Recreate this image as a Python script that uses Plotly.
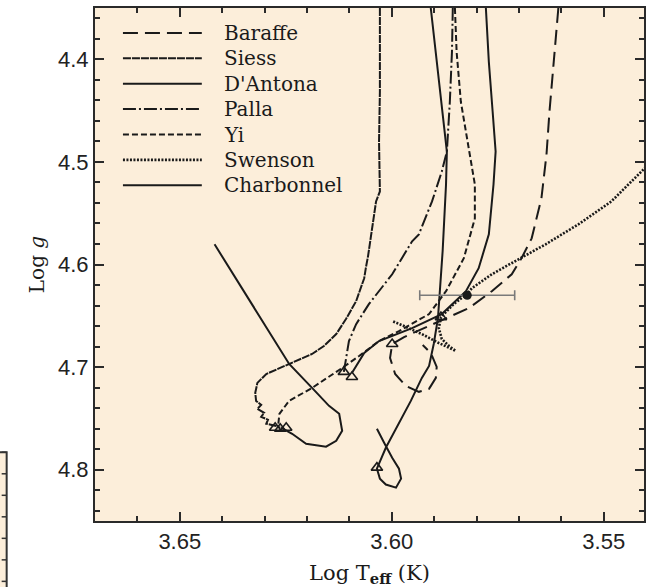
import plotly.graph_objects as go

# ---------------------------------------------------------------------------
# Evolutionary tracks in the (log Teff, log g) plane
# ---------------------------------------------------------------------------
baraffe_teff = [3.5607, 3.5618, 3.5628, 3.5635, 3.5647, 3.5670, 3.5694, 3.5717, 3.5764,
                3.5818, 3.5849, 3.5912, 3.5971, 3.5999, 3.6004, 3.5992, 3.5967, 3.5936,
                3.5912, 3.5896, 3.5894, 3.5908, 3.5927]
baraffe_logg = [4.3500, 4.4025, 4.4511, 4.4929, 4.5356, 4.5745, 4.5939, 4.6095, 4.6260,
                4.6425, 4.6483, 4.6600, 4.6707, 4.6775, 4.6911, 4.7067, 4.7183, 4.7241,
                4.7212, 4.7105, 4.6998, 4.6862, 4.6785]

siess_teff = [3.6028, 3.6028, 3.6030, 3.6028, 3.6037, 3.6042, 3.6047, 3.6052, 3.6056,
              3.6061, 3.6065, 3.6084, 3.6108, 3.6131, 3.6160, 3.6188, 3.6242, 3.6296,
              3.6317, 3.6322, 3.6320, 3.6308, 3.6317, 3.6301, 3.6308, 3.6292, 3.6296,
              3.6275, 3.6263]
siess_logg = [4.3500, 4.4316, 4.4802, 4.5288, 4.5385, 4.5531, 4.5706, 4.5810, 4.5920,
              4.6030, 4.6134, 4.6357, 4.6532, 4.6678, 4.6794, 4.6872, 4.6969, 4.7067,
              4.7154, 4.7251, 4.7329, 4.7368, 4.7407, 4.7445, 4.7484, 4.7513, 4.7552,
              4.7571, 4.7591]

dantona_teff = [3.5908, 3.5896, 3.5884, 3.5870, 3.5872, 3.5880, 3.5891, 3.5901, 3.5912,
                3.5929, 3.5955, 3.5990, 3.6014, 3.6030, 3.6035, 3.6028, 3.6014, 3.5990,
                3.5978, 3.5983, 3.5999, 3.6018, 3.6035]
dantona_logg = [4.3500, 4.3928, 4.4414, 4.4899, 4.5220, 4.5871, 4.6522, 4.6775, 4.6989,
                4.7105, 4.7329, 4.7591, 4.7786, 4.7941, 4.7990, 4.8087, 4.8145, 4.8175,
                4.8087, 4.7990, 4.7883, 4.7737, 4.7601]

palla_teff = [3.6113, 3.6108, 3.6101, 3.6084, 3.6054, 3.5999, 3.5952, 3.5936, 3.5905,
              3.5882, 3.5870, 3.5863, 3.5858, 3.5856]
palla_logg = [4.7047, 4.6911, 4.6746, 4.6581, 4.6386, 4.6095, 4.5774, 4.5706, 4.5385,
              4.5094, 4.4899, 4.4414, 4.3928, 4.3500]

yi_teff = [3.5851, 3.5847, 3.5837, 3.5818, 3.5804, 3.5804, 3.5830, 3.5872, 3.5912,
           3.5983, 3.6030, 3.6077, 3.6117, 3.6188, 3.6242, 3.6265, 3.6268]
yi_logg = [4.3500, 4.3928, 4.4414, 4.4899, 4.5220, 4.5551, 4.5939, 4.6260, 4.6483,
           4.6649, 4.6746, 4.6892, 4.7008, 4.7203, 4.7329, 4.7455, 4.7571]

swenson_teff = [3.5371, 3.5404, 3.5482, 3.5560, 3.5637, 3.5701, 3.5764, 3.5811, 3.5823,
                3.5854, 3.5884, 3.5889, 3.5882, 3.5865, 3.5849, 3.5889, 3.5929, 3.5971,
                3.5999]
swenson_logg = [4.4929, 4.5065, 4.5385, 4.5609, 4.5803, 4.5949, 4.6095, 4.6231, 4.6289,
                4.6386, 4.6513, 4.6620, 4.6726, 4.6794, 4.6843, 4.6765, 4.6678, 4.6600,
                4.6551]

# Charbonnel: main descent plus the hot-side branch (None separates the pieces)
charbonnel_teff = [3.5778, 3.5771, 3.5762, 3.5755, 3.5760, 3.5771, 3.5795, 3.5825, 3.5882,
                   3.5952, 3.6030, 3.6065, 3.6094, None,
                   3.6418, 3.6331, 3.6242, 3.6188, 3.6148, 3.6124, 3.6117, 3.6131, 3.6155,
                   3.6202, 3.6235, 3.6261]
charbonnel_logg = [4.3500, 4.4025, 4.4511, 4.4899, 4.5220, 4.5706, 4.6036, 4.6260, 4.6483,
                   4.6620, 4.6746, 4.6862, 4.7057, None,
                   4.5803, 4.6386, 4.6969, 4.7203, 4.7378, 4.7455, 4.7620, 4.7718, 4.7776,
                   4.7747, 4.7650, 4.7591]

# Age markers along the tracks
marker_teff = [3.6275, 3.6263, 3.6249, 3.6113, 3.6094, 3.6035, 3.5999, 3.5884]
marker_logg = [4.7591, 4.7601, 4.7591, 4.7047, 4.7096, 4.7980, 4.6775, 4.6513]

# Observed star with its temperature uncertainty
star_teff = [3.5822]
star_logg = [4.6300]
star_teff_err = [0.0112]

# Axis settings
x_range = [3.67, 3.5405]
y_range = [4.85, 4.35]

BG = "#FCEEDA"
INK = "#1a1a1a"
AXC = "#2a2a2a"

tracks = [
    ("Baraffe", baraffe_teff, baraffe_logg, "15px,7px", 2),
    ("Siess", siess_teff, siess_logg, "8px,1px", 2),
    ("D'Antona", dantona_teff, dantona_logg, "solid", 2),
    ("Palla", palla_teff, palla_logg, "13px,3px,2px,3px", 2),
    ("Yi", yi_teff, yi_logg, "6px,3px", 2),
    ("Swenson", swenson_teff, swenson_logg, "2px,1.5px", 2.6),
    ("Charbonnel", charbonnel_teff, charbonnel_logg, "solid", 2),
]

fig = go.Figure()
for name, tx, gy, dash, lw in tracks:
    fig.add_trace(go.Scatter(x=tx, y=gy, mode="lines", name=name,
                             line=dict(color=INK, width=lw, dash=dash),
                             showlegend=False, connectgaps=False))

fig.add_trace(go.Scatter(x=marker_teff, y=marker_logg, mode="markers",
                         marker=dict(symbol="triangle-up-open", size=10, color=INK,
                                     line=dict(width=1.6, color=INK)),
                         showlegend=False))

fig.add_trace(go.Scatter(x=star_teff, y=star_logg, mode="markers",
                         marker=dict(symbol="circle", size=9, color=INK),
                         error_x=dict(type="data", array=star_teff_err, color="#7a7a7a",
                                      thickness=1.6, width=5),
                         showlegend=False))

# Invisible companion trace so the top/right tick axes are laid out
fig.add_trace(go.Scatter(x=star_teff, y=star_logg, xaxis="x2", yaxis="y2", mode="markers",
                         marker=dict(opacity=0), hoverinfo="skip", showlegend=False))

# Hand-drawn key in the upper-left corner of the panel
W, H = 652, 587
ML, MR, MT, MB = 95, 7, 6, 66
pw, ph = W - ML - MR, H - MT - MB


def px2paper(px, py):
    return (px - ML) / pw, (H - MB - py) / ph


shapes = []
annotations = []
for i, (name, _, _, dash, lw) in enumerate(tracks):
    row_y = 31 + i * 25.5
    x0, y0 = px2paper(123, row_y)
    x1, _ = px2paper(202, row_y)
    shapes.append(dict(type="line", xref="paper", yref="paper", x0=x0, x1=x1, y0=y0, y1=y0,
                       line=dict(color=INK, width=lw, dash=dash)))
    tx, _ = px2paper(222, row_y)
    annotations.append(dict(xref="paper", yref="paper", x=tx, y=y0, text=name,
                            showarrow=False, xanchor="left", yanchor="middle",
                            font=dict(family="DejaVu Serif", size=20, color=INK)))

# Edge of the neighbouring panel visible at the lower left
fx0, fy0 = px2paper(-10, 452)
fx1, fy1 = px2paper(6.5, 600)
shapes.append(dict(type="rect", xref="paper", yref="paper", x0=fx0, x1=fx1, y0=fy1, y1=fy0,
                   fillcolor=BG, line=dict(color="#333", width=2), layer="below"))
for k in range(7):
    tx0, ty = px2paper(1.5, 452 + k * 21.6)
    tx1, _ = px2paper(6.5, 452 + k * 21.6)
    shapes.append(dict(type="line", xref="paper", yref="paper", x0=tx0, x1=tx1, y0=ty, y1=ty,
                       line=dict(color="#333", width=1.5)))

tick_common = dict(ticks="inside", ticklen=9, tickwidth=1.5, tickcolor=AXC,
                   showgrid=False, zeroline=False)
label_font = dict(family="Liberation Sans", size=22, color="#222")

x_minor = dict(dtick=0.01, ticks="inside", ticklen=5, tickwidth=1.5, tickcolor=AXC)
y_minor = dict(dtick=0.02, ticks="inside", ticklen=5, tickwidth=1.5, tickcolor=AXC)

fig.update_layout(
    width=W, height=H,
    margin=dict(l=ML, r=MR, t=MT, b=MB),
    paper_bgcolor="white", plot_bgcolor=BG,
    shapes=shapes, annotations=annotations,
    xaxis=dict(range=x_range, tick0=3.55, dtick=0.05, tickformat=".2f", minor=x_minor,
               showline=True, linewidth=2, linecolor=AXC, mirror=True,
               tickfont=label_font,
               title=dict(text="Log T<sub><b>eff</b></sub> (K)", standoff=12,
                          font=dict(family="DejaVu Serif", size=21, color=INK)),
               **tick_common),
    yaxis=dict(range=y_range, tick0=4.4, dtick=0.1, tickformat=".1f", minor=y_minor,
               showline=True, linewidth=2, linecolor=AXC, mirror=True,
               tickfont=label_font,
               title=dict(text="Log <i>g</i>", standoff=8,
                          font=dict(family="DejaVu Serif", size=20, color=INK)),
               **tick_common),
    xaxis2=dict(range=x_range, overlaying="x", side="top", tick0=3.55, dtick=0.05,
                minor=x_minor, showticklabels=False, showline=False, **tick_common),
    yaxis2=dict(range=y_range, overlaying="y", side="right", tick0=4.4, dtick=0.1,
                minor=y_minor, showticklabels=False, showline=False, **tick_common),
)

fig.write_html("out.html")
